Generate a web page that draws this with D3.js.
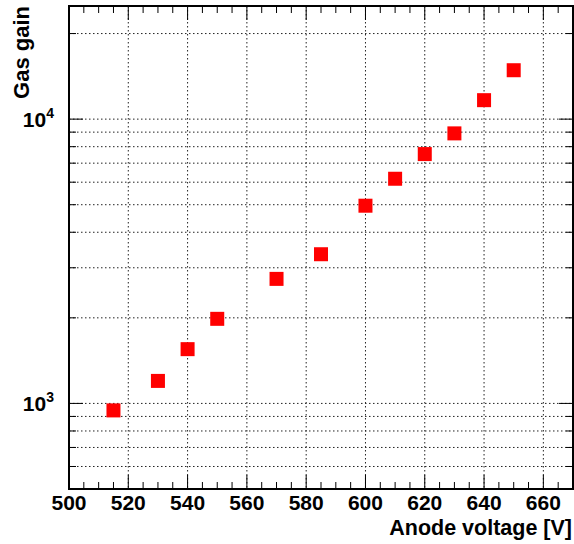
<!DOCTYPE html>
<html>
<head>
<meta charset="utf-8">
<script src="https://cdn.jsdelivr.net/npm/d3@7"></script>
<style>
  body { margin: 0; background: #fff; }
  svg text { font-family: "Liberation Sans", Arial, sans-serif; font-weight: bold; fill: #000; }
</style>
</head>
<body>
<div id="chart"></div>
<script>
// anode voltage [V] and measured gas gain
const voltages = [515, 530, 540, 550, 570, 585, 600, 610, 620, 630, 640, 650];
const gains = [945, 1200, 1552, 1984, 2742, 3348, 4960, 6170, 7535, 8910, 11660, 14860];
const xTicks = [500, 520, 540, 560, 580, 600, 620, 640, 660];
const yLabelPowers = [3, 4];

const width = 574;
const height = 544;
const margin = { top: 6, right: 1, bottom: 55, left: 69 };

const svg = d3.select('#chart')
  .append('svg')
  .attr('width', width)
  .attr('height', height);

const x = d3.scaleLinear()
  .domain([500, 670])
  .range([margin.left, width - margin.right]);

const y = d3.scaleLog()
  .domain([500, 25000])
  .range([height - margin.bottom, margin.top]);

const x0 = x.range()[0], x1 = x.range()[1];
const y0 = y.range()[0], y1 = y.range()[1];

// minor ticks along x every 5 V, y ticks at 1..9 x 10^n
const xMinor = d3.range(500, 671, 5);
const yMinor = [];
for (let p = 2; p <= 4; p++) {
  for (let m = 1; m <= 9; m++) {
    const v = m * Math.pow(10, p);
    if (v >= 500 && v <= 25000) yMinor.push(v);
  }
}

// grid
const grid = svg.append('g')
  .attr('stroke', '#222')
  .attr('stroke-width', 1)
  .attr('stroke-dasharray', '1.5,2.5');

grid.selectAll('.gx')
  .data(xTicks.filter(d => d > 500))
  .enter().append('line')
  .attr('x1', d => x(d)).attr('x2', d => x(d))
  .attr('y1', y1).attr('y2', y0);

grid.selectAll('.gy')
  .data(yMinor)
  .enter().append('line')
  .attr('x1', x0).attr('x2', x1)
  .attr('y1', d => y(d)).attr('y2', d => y(d));

// ticks on all four sides
const ticks = svg.append('g').attr('stroke', '#000').attr('stroke-width', 1);
const isMajorX = d => d % 20 === 0;
const isMajorY = d => Math.abs(Math.log10(d) - Math.round(Math.log10(d))) < 1e-9;

ticks.selectAll('.tb')
  .data(xMinor)
  .enter().append('line')
  .attr('x1', d => x(d)).attr('x2', d => x(d))
  .attr('y1', y0).attr('y2', d => y0 - (isMajorX(d) ? 14 : 7));

ticks.selectAll('.tt')
  .data(xMinor)
  .enter().append('line')
  .attr('x1', d => x(d)).attr('x2', d => x(d))
  .attr('y1', y1).attr('y2', d => y1 + (isMajorX(d) ? 14 : 7));

ticks.selectAll('.tl')
  .data(yMinor)
  .enter().append('line')
  .attr('y1', d => y(d)).attr('y2', d => y(d))
  .attr('x1', x0).attr('x2', d => x0 + (isMajorY(d) ? 14 : 7));

ticks.selectAll('.tr')
  .data(yMinor)
  .enter().append('line')
  .attr('y1', d => y(d)).attr('y2', d => y(d))
  .attr('x1', x1).attr('x2', d => x1 - (isMajorY(d) ? 14 : 7));

// frame
svg.append('rect')
  .attr('x', x0).attr('y', y1)
  .attr('width', x1 - x0).attr('height', y0 - y1)
  .attr('fill', 'none')
  .attr('stroke', '#000')
  .attr('stroke-width', 2);

// x tick labels
svg.selectAll('.xl')
  .data(xTicks)
  .enter().append('text')
  .attr('x', d => x(d))
  .attr('y', y0 + 21)
  .attr('text-anchor', 'middle')
  .attr('font-size', 21)
  .text(d => d);

// y tick labels 10^n
const yl = svg.selectAll('.yl')
  .data(yLabelPowers)
  .enter().append('text')
  .attr('x', x0 - 15)
  .attr('y', d => y(Math.pow(10, d)) + 8)
  .attr('text-anchor', 'end')
  .attr('font-size', 21);
yl.append('tspan').text('10');
yl.append('tspan')
  .attr('dy', -9)
  .attr('font-size', 14)
  .text(d => d);

// axis titles
svg.append('text')
  .attr('x', x1 - 1)
  .attr('y', 535)
  .attr('text-anchor', 'end')
  .attr('font-size', 21.5)
  .text('Anode voltage [V]');

svg.append('text')
  .attr('transform', `translate(29, ${y1}) rotate(-90)`)
  .attr('text-anchor', 'end')
  .attr('font-size', 22)
  .text('Gas gain');

// markers
const size = 14;
svg.selectAll('.pt')
  .data(voltages.map((v, i) => ({ v, g: gains[i] })))
  .enter().append('rect')
  .attr('x', d => x(d.v) - size / 2)
  .attr('y', d => y(d.g) - size / 2)
  .attr('width', size)
  .attr('height', size)
  .attr('fill', '#ff0000');
</script>
</body>
</html>
